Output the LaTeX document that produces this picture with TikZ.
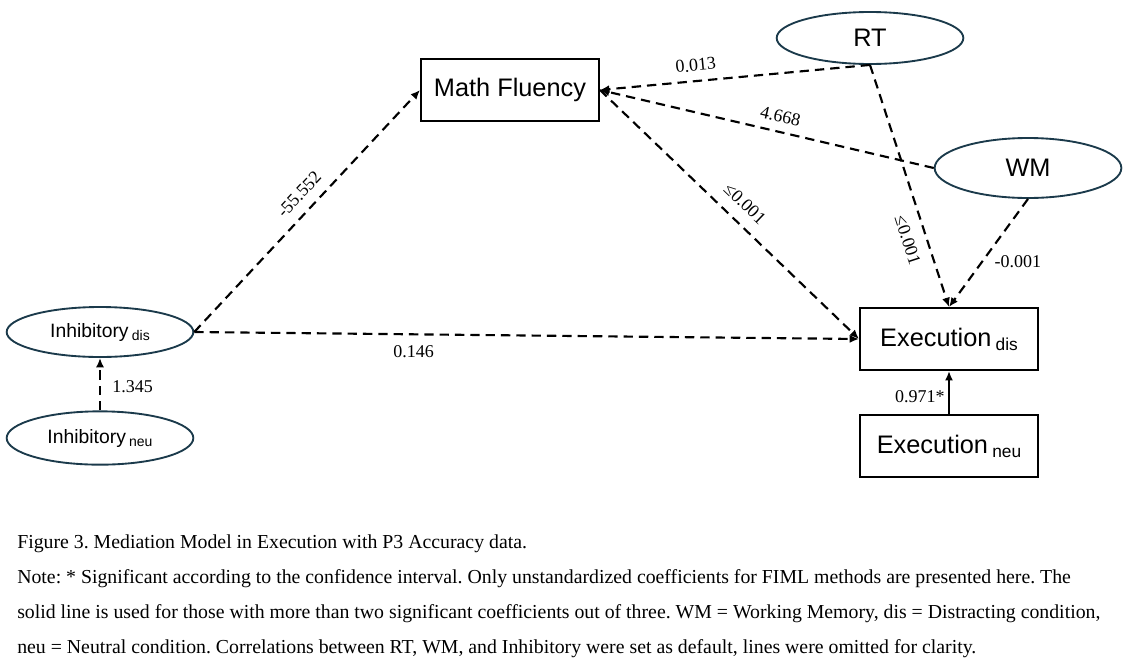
\documentclass[tikz,border=0pt]{standalone}
\usepackage{fontspec}
\setmainfont{Liberation Serif}
\setsansfont{Liberation Sans}
\usetikzlibrary{arrows.meta,shapes.geometric}
\definecolor{ink}{gray}{0.0}
\definecolor{rim}{HTML}{1B3A4B}
% lowered condition tag after a variable name
\newcommand{\cond}[2][10.5]{\,{\fontsize{#1}{#1}\selectfont\raisebox{-0.45ex}{#2}}}
\frenchspacing

\begin{document}
\begin{tikzpicture}[x=0.75pt, y=-0.75pt,
  box/.style={draw=ink, rectangle, line width=1.5pt, minimum width=133.5pt, minimum height=46.5pt, inner sep=0pt, font=\sffamily\fontsize{19}{22}\selectfont},
  latent/.style={draw=rim, ellipse, line width=1.4pt, inner sep=0pt, minimum width=140pt, font=\sffamily\fontsize{14.5}{16}\selectfont},
  link/.style={ink, line width=1.6pt, dash pattern=on 7pt off 4.5pt, -{Latex[length=7pt,width=6pt]}},
  coef/.style={font=\fontsize{13.5}{15}\selectfont, inner sep=2.5pt}]
  \useasboundingbox (0,0) rectangle (1126,664);

  % variables
  \node[box] (mf) at (510,90) {Math Fluency};
  \node[latent, minimum height=39pt, font=\sffamily\fontsize{19}{22}\selectfont] (rt) at (870,38) {RT};
  \node[latent, minimum height=45pt, font=\sffamily\fontsize{19}{22}\selectfont] (wm) at (1028,168) {WM};
  \node[latent, minimum height=37.5pt] (inhdis) at (100,332) {Inhibitory\cond{dis}};
  \node[latent, minimum height=40pt] (inhneu) at (100,438) {Inhibitory\cond{neu}};
  \node[box] (exdis) at (949,339) {Execution\cond[13]{dis}};
  \node[box] (exneu) at (949,446) {Execution\cond[13]{neu}};

  % paths
  \draw[link] (inhdis.east) -- node[coef, sloped, above=5pt, pos=0.52] (c1) {-55.552} (mf.west);
  \draw[link] (inhdis.east) -- node[coef, below=5pt, pos=0.33] (c2) {0.146} (exdis.west);
  \draw[link] (mf.east) -- node[coef, sloped, above=6pt, pos=0.51] (c3) {≤0.001} (exdis.west);
  \draw[link] (rt.south) -- node[coef, sloped, above=4pt, pos=0.64] (c4) {0.013} (mf.east);
  \draw[link] (wm.west) -- node[coef, sloped, above=4pt, pos=0.47] (c5) {4.668} (mf.east);
  \draw[link] (rt.south) -- node[coef, sloped, below=6pt, pos=0.7] (c6) {≤0.001} (exdis.north);
  \draw[link] (wm.south) -- node[coef, right=6pt, pos=0.58] (c7) {-0.001} (exdis.north);
  \draw[link] (inhneu) -- node[coef, right=6pt, pos=0.45] (c8) {1.345} (inhdis);
  \draw[ink, line width=1.5pt, -{Latex[length=7pt,width=6pt]}] (exneu) -- node[coef, left, pos=0.4] (c9) {0.971*} (exdis);

  % caption
  \foreach \y/\t in {548/{Figure 3. Mediation Model in Execution with P3 Accuracy data.},
    583/{Note: * Significant according to the confidence interval. Only unstandardized coefficients for FIML methods are presented here. The},
    618/{solid line is used for those with more than two significant coefficients out of three. WM = Working Memory, dis = Distracting condition,},
    653/{neu = Neutral condition. Correlations between RT, WM, and Inhibitory were set as default, lines were omitted for clarity.}}
    \node[anchor=base west, inner sep=0pt, font=\fontsize{14.85}{17}\selectfont] (cap\y) at (17,\y) {\t};
\end{tikzpicture}
\end{document}
